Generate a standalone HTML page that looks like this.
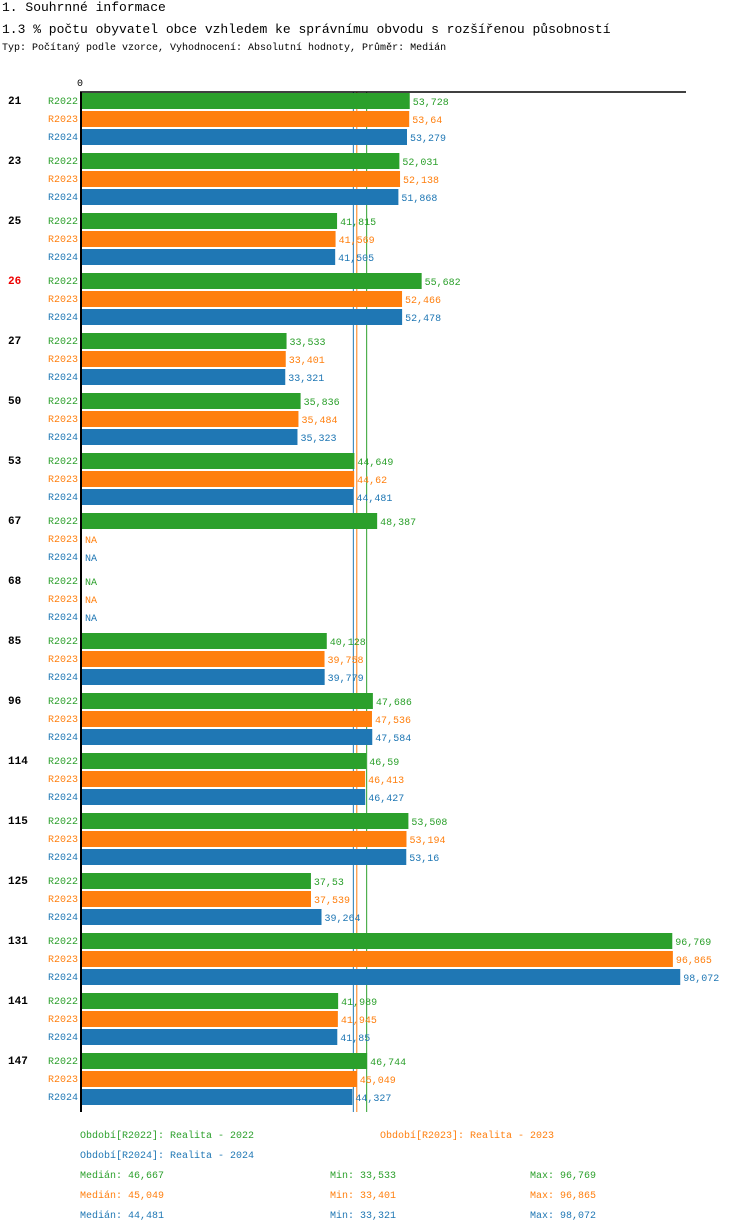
<!DOCTYPE html>
<html><head><meta charset="utf-8">
<style>
body{margin:0;background:#fff;font-family:"Liberation Mono","DejaVu Sans Mono",monospace;}
#wrap{position:relative;width:750px;height:1232px;overflow:hidden;}
.t{position:absolute;white-space:nowrap;}
</style></head>
<body>
<div id="wrap">
<div class="t" style="left:2px;top:0px;font-size:13px;">1. Souhrnné informace</div>
<div class="t" style="left:2px;top:22px;font-size:13px;">1.3 % počtu obyvatel obce vzhledem ke správnímu obvodu s rozšířenou působností</div>
<div class="t" style="left:2px;top:43px;font-size:10px;">Typ: Počítaný podle vzorce, Vyhodnocení: Absolutní hodnoty, Průměr: Medián</div>
<svg id="chart" width="750" height="1232" style="position:absolute;left:0;top:0"></svg>
</div>
<script>
const categories=["21","23","25","26","27","50","53","67","68","85","96","114","115","125","131","141","147"];
const seriesNames=["R2022","R2023","R2024"];
const v2022=[53.728,52.031,41.815,55.682,33.533,35.836,44.649,48.387,null,40.128,47.686,46.59,53.508,37.53,96.769,41.989,46.744];
const v2023=[53.64,52.138,41.569,52.466,33.401,35.484,44.62,null,null,39.758,47.536,46.413,53.194,37.539,96.865,41.945,45.049];
const v2024=[53.279,51.868,41.505,52.478,33.321,35.323,44.481,null,null,39.779,47.584,46.427,53.16,39.264,98.072,41.85,44.327];
const medians=[46.667,45.049,44.481];
const mins=[33.533,33.401,33.321];
const maxs=[96.769,96.865,98.072];
const highlight="26";
const colors=["#2ca02c","#ff7f0e","#1f77b4"];
const series=[v2022,v2023,v2024];
const NS="http://www.w3.org/2000/svg";
const svg=document.getElementById('chart');
const x0=82, scale=6.1;
const xs=v=>x0+v*scale;
const gy=i=>92+i*60;
function mk(tag,attrs,text){const e=document.createElementNS(NS,tag);for(const k in attrs)e.setAttribute(k,attrs[k]);if(text!=null)e.textContent=text;svg.appendChild(e);return e;}
const fm=v=>String(v).replace('.',',');
let e;
const axisBottom=gy(categories.length-1)+60;
[2,1,0].forEach(j=>{
  e=mk('line',{x1:xs(medians[j]),x2:xs(medians[j]),y1:92,y2:axisBottom,stroke:colors[j],'stroke-width':1});
  
  
});
categories.forEach((c,i)=>{
  const y=gy(i);
  e=mk('text',{x:8,y:y+12,'font-size':11,'font-weight':'bold',fill:c===highlight?'#e00':'#000','font-family':'Liberation Mono,monospace'},c);
  
  
  series.forEach((s,j)=>{
    const by=y+1+j*18;
    e=mk('text',{x:78,y:by+11,'font-size':10,'text-anchor':'end',fill:colors[j],'font-family':'Liberation Mono,monospace'},seriesNames[j]);
    
    
    const v=s[i];
    if(v!=null){
      e=mk('rect',{x:x0,y:by,width:xs(v)-x0,height:16,fill:colors[j]});
      
      
    }
    e=mk('text',{x:(v!=null?xs(v):x0)+3,y:by+12,'font-size':10,fill:colors[j],'font-family':'Liberation Mono,monospace'},v!=null?fm(v):'NA');
    
    
  });
});
e=mk('line',{x1:80,x2:686,y1:92,y2:92,stroke:'#000','stroke-width':1.5});


e=mk('line',{x1:81,x2:81,y1:92,y2:axisBottom,stroke:'#000','stroke-width':2});


e=mk('text',{x:80,y:86,'font-size':10,'text-anchor':'middle','font-family':'Liberation Mono,monospace'},'0');


const legendDesc=["Období[R2022]: Realita - 2022","Období[R2023]: Realita - 2023","Období[R2024]: Realita - 2024"];
const lpos=[[80,1138],[380,1138],[80,1158]];
legendDesc.forEach((t,j)=>{
  e=mk('text',{x:lpos[j][0],y:lpos[j][1],'font-size':10,fill:colors[j],'font-family':'Liberation Mono,monospace'},t);
  
  
});
[0,1,2].forEach(j=>{
  const y=1178+j*20;
  e=mk('text',{x:80,y:y,'font-size':10,fill:colors[j],'font-family':'Liberation Mono,monospace'},'Medián: '+fm(medians[j]));
  
  
  e=mk('text',{x:330,y:y,'font-size':10,fill:colors[j],'font-family':'Liberation Mono,monospace'},'Min: '+fm(mins[j]));
  
  
  e=mk('text',{x:530,y:y,'font-size':10,fill:colors[j],'font-family':'Liberation Mono,monospace'},'Max: '+fm(maxs[j]));
  
  
});
</script>
</body></html>
